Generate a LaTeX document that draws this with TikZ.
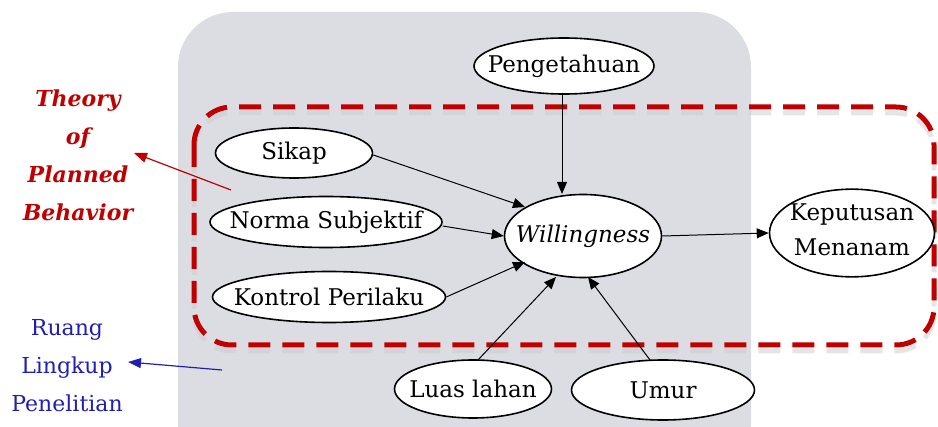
\documentclass[tikz,border=0pt]{standalone}
\usepackage{fontspec}
\setmainfont{DejaVu Serif}
\usetikzlibrary{shapes.geometric,arrows.meta}
\definecolor{boxgray}{HTML}{DCDDE3}
\definecolor{tpbred}{HTML}{C00000}
\definecolor{scopeblue}{HTML}{2020B0}
\newcommand{\fixw}[1]{\makebox[0pt]{#1}}
\tikzset{
  var/.style={ellipse, draw=black, line width=1.6pt, fill=white, inner sep=0pt,
    font=\fontsize{23}{27}\selectfont, align=center},
  link/.style={-{Triangle[length=12pt,width=10pt]}, line width=1pt},
  redlabel/.style={text=tpbred, font=\fontsize{22}{38}\selectfont\bfseries\itshape, align=center},
  bluelabel/.style={text=scopeblue, font=\fontsize{22}{38}\selectfont, align=center},
}
\begin{document}
\begin{tikzpicture}[x=1pt,y=-1pt]
\useasboundingbox (0,0) rectangle (938,427);
\clip (0,0) rectangle (938,427);
% gray scope box
\fill[boxgray, rounded corners=55pt] (178,12) rectangle (751,480);
% dashed TPB region with shadow
\draw[gray!40, line width=5pt, dash pattern=on 22pt off 12pt, rounded corners=38pt, opacity=0.5]
  (194,113) rectangle (934,351);
\draw[tpbred, line width=5pt, dash pattern=on 22pt off 12pt, rounded corners=38pt]
  (194,107) rectangle (934,345);
% nodes
\node[var, minimum width=180pt, minimum height=56pt] (pen) at (564,66) {\fixw{Pengetahuan}};
\node[var, minimum width=157pt, minimum height=50pt] (sik) at (294,153) {\fixw{Sikap}};
\node[var, minimum width=232pt, minimum height=51pt] (nor) at (326,222) {\fixw{Norma Subjektif}};
\node[var, minimum width=233pt, minimum height=51pt] (kon) at (329,297) {\fixw{Kontrol Perilaku}};
\node[var, minimum width=157pt, minimum height=83pt] (wil) at (583,236) {\fixw{\itshape Willingness}};
\node[var, minimum width=165pt, minimum height=85pt] (kep) at (852,233)
  {\fixw{\begin{tabular}{@{}c@{}}Keputusan\\[8pt]Menanam\end{tabular}}};
\node[var, minimum width=157pt, minimum height=58pt] (lua) at (473,389) {\fixw{Luas lahan}};
\node[var, minimum width=183pt, minimum height=60pt] (umu) at (663,390) {\fixw{Umur}};
% connectors
\draw[link] (pen.south -| 562,0) -- (562,194);
\draw[link] (sik.east) ++(0,2) -- (525,207);
\draw[link] (nor.east) ++(0,4) -- (wil.west);
\draw[link] (kon.east) -- (525,262);
\draw[link] (478,360) -- (556,277);
\draw[link] (650,360) -- (588,277);
\draw[link] (wil.east) -- (kep.west);
% side labels
\node[redlabel] (tpb) at (78,155) {Theory\\of\\Planned\\Behavior};
\node[bluelabel] (rl) at (67,366) {Ruang\\Lingkup\\Penelitian};
\coordinate (tpbsrc) at (231,190);
\coordinate (tpbtip) at (134,153);
\coordinate (rlsrc) at (222,370);
\coordinate (rltip) at (128,362);
\draw[tpbred, line width=1.2pt, -{Triangle[length=13pt,width=10pt]}] (tpbsrc) -- (tpbtip);
\draw[scopeblue, line width=1.2pt, -{Triangle[length=13pt,width=10pt]}] (rlsrc) -- (rltip);
\end{tikzpicture}
\end{document}
